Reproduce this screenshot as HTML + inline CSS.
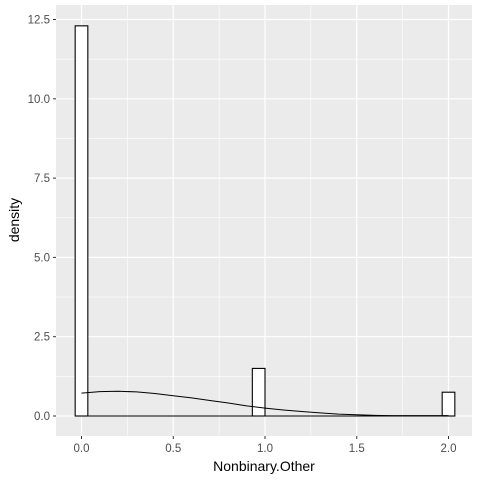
<!DOCTYPE html>
<html><head><meta charset="utf-8"><style>
body{margin:0;background:#fff;}
svg text{font-family:"Liberation Sans",Arial,sans-serif;}
</style></head><body>
<svg id="chart" width="480" height="480" xmlns="http://www.w3.org/2000/svg">
<rect x="56" y="5" width="416" height="431" fill="#EBEBEB"/>
<g id="grid"></g>
<g id="bars"></g>
<g id="dens"></g>
<g id="axes"></g>
<text x="264" y="471" font-size="14" text-anchor="middle" fill="#000">Nonbinary.Other</text>
<text transform="translate(19,220) rotate(-90)" font-size="14" text-anchor="middle" fill="#000">density</text>
</svg>
<script>
const barCenters=[0,0.9655,2];
const barHeights=[12.3,1.5,0.75];
const binWidth=2/29;
const densX=[0,0.1,0.2,0.3,0.4,0.5,0.6,0.7,0.8,0.9,1.0,1.1,1.2,1.3,1.4,1.5,1.6,1.7,1.8,1.9,2.0];
const densY=[0.72,0.77,0.78,0.76,0.71,0.64,0.57,0.49,0.41,0.32,0.25,0.19,0.14,0.1,0.06,0.04,0.02,0.01,0.01,0.01,0.01];
const xTicks=[0,0.5,1,1.5,2];
const xTickLabels=["0.0","0.5","1.0","1.5","2.0"];
const yTicks=[0,2.5,5,7.5,10,12.5];
const yTickLabels=["0.0","2.5","5.0","7.5","10.0","12.5"];
const NS="http://www.w3.org/2000/svg";
const X=v=>81.5+v*183.5;
const Y=v=>416-v*31.72;
function mk(tag,attrs,parent){const e=document.createElementNS(NS,tag);for(const k in attrs)e.setAttribute(k,attrs[k]);document.getElementById(parent).appendChild(e);return e;}
for(let i=0;i<xTicks.length;i++){
  if(i<xTicks.length-1){const m=(xTicks[i]+xTicks[i+1])/2;const g=mk('line',{x1:X(m),x2:X(m),y1:5,y2:436,stroke:'#fff','stroke-width':0.6},'grid');
  
  }
  const g=mk('line',{x1:X(xTicks[i]),x2:X(xTicks[i]),y1:5,y2:436,stroke:'#fff','stroke-width':1.2},'grid');
  
  
  const t=mk('line',{x1:X(xTicks[i]),x2:X(xTicks[i]),y1:436,y2:439,stroke:'#333','stroke-width':1},'axes');
  
  
  const l=mk('text',{x:X(xTicks[i]),y:452,'font-size':11.5,'text-anchor':'middle',fill:'#4D4D4D'},'axes');l.textContent=xTickLabels[i];
  
  
}
for(let i=0;i<yTicks.length;i++){
  const m=yTicks[i]+1.25;
  if(Y(m)>5){const g=mk('line',{x1:56,x2:472,y1:Y(m),y2:Y(m),stroke:'#fff','stroke-width':0.6},'grid');
  
  }
  const g=mk('line',{x1:56,x2:472,y1:Y(yTicks[i]),y2:Y(yTicks[i]),stroke:'#fff','stroke-width':1.2},'grid');
  
  
  const t=mk('line',{x1:53,x2:56,y1:Y(yTicks[i]),y2:Y(yTicks[i]),stroke:'#333','stroke-width':1},'axes');
  
  
  const l=mk('text',{x:50,y:Y(yTicks[i])+4,'font-size':11.5,'text-anchor':'end',fill:'#4D4D4D'},'axes');l.textContent=yTickLabels[i];
  
  
}
for(let i=0;i<barCenters.length;i++){
  const x0=X(barCenters[i]-binWidth/2),x1=X(barCenters[i]+binWidth/2);
  const b=mk('rect',{x:x0,y:Y(barHeights[i]),width:x1-x0,height:Y(0)-Y(barHeights[i]),fill:'#fff',stroke:'#000','stroke-width':1.1},'bars');
  
  
}
const base=mk('line',{x1:X(-binWidth/2),x2:X(2+binWidth/2),y1:Y(0),y2:Y(0),stroke:'#000','stroke-width':1.1},'bars');


let pts=densX.map((x,i)=>X(x)+','+Y(densY[i]));
const d=mk('polyline',{points:pts.join(' '),fill:'none',stroke:'#000','stroke-width':1},'dens');


</script>
</body></html>
